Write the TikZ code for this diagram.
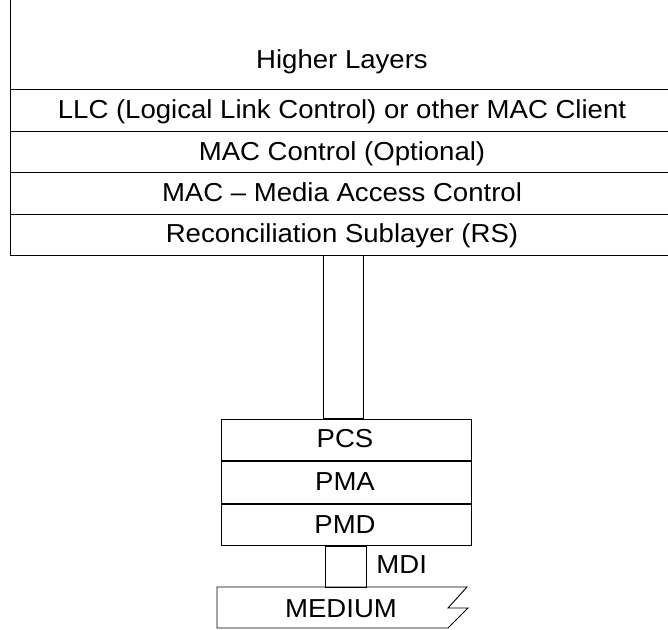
\documentclass[tikz,border=0pt]{standalone}
\usepackage{fontspec}
\setmainfont{Liberation Sans}
\usetikzlibrary{positioning}

\tikzset{
  layer/.style={font=\fontsize{26}{30}\selectfont, xscale=1.06, inner sep=0pt, anchor=base},
  phybox/.style={draw, line width=0.9pt, minimum width=250pt, minimum height=41.5pt},
}

\begin{document}
\begin{tikzpicture}[x=1pt, y=-1pt, line width=0.9pt]
  \useasboundingbox (0,0) rectangle (668,629);

  % upper stack, open at the top and right
  \draw (10,0) -- (10,255) -- (668,255);
  \foreach \y in {89,131,172,214}
    \draw (10,\y) -- (668,\y);
  \node[layer] (higher) at (342,68) {Higher Layers};
  \node[layer] (llc) at (342,118) {LLC (Logical Link Control) or other MAC Client};
  \node[layer] (macctl) at (342,160) {MAC Control (Optional)};
  \node[layer] (mac) at (342,201) {MAC -- Media Access Control};
  \node[layer] (rs) at (342,242) {Reconciliation Sublayer (RS)};

  % PHY sublayers
  \node[phybox] (pcs) at (346,440) {};
  \node[phybox, below=0pt of pcs] (pma) {};
  \node[phybox, below=0pt of pma] (pmd) {};
  \node[layer] at (345,447) {PCS};
  \node[layer] at (345,490) {PMA};
  \node[layer] at (345,533) {PMD};

  % interface between RS and PCS
  \coordinate (miitop) at (323,255);
  \draw (miitop) rectangle (pcs.north -| 363,0);

  % MDI and the medium
  \coordinate (mditop) at (325,0 |- pmd.south);
  \draw (mditop) rectangle (366,587);
  \node[layer, anchor=base west] (mdi) at (376,573) {MDI};
  \draw (448,628) -- (217,628) -- (217,587) -- (467,587)
    -- (448,608) -- (468,608) -- (448,628);
  \node[layer] (medium) at (341,617) {MEDIUM};
\end{tikzpicture}
\end{document}
